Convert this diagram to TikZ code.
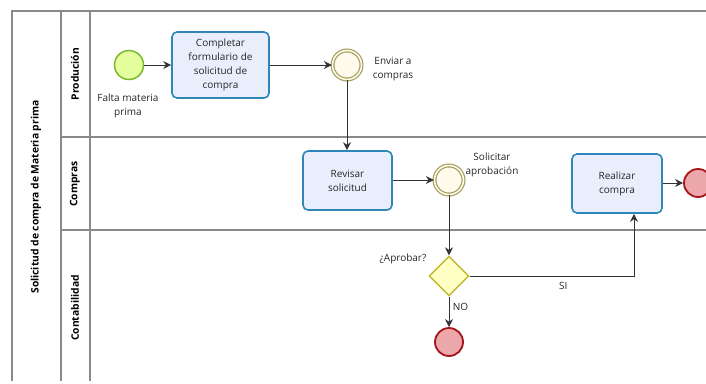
\documentclass[tikz,border=0pt]{standalone}
\usepackage{fontspec}
\setmainfont{Open Sans}
\usetikzlibrary{arrows.meta,shapes.geometric}

\definecolor{poolline}{HTML}{8A8A8A}
\definecolor{taskfill}{HTML}{E9EEFC}
\definecolor{taskdraw}{HTML}{2F86B8}
\definecolor{startfill}{HTML}{E6FF9E}
\definecolor{startdraw}{HTML}{79BA2D}
\definecolor{midfill}{HTML}{FFFAEC}
\definecolor{middraw}{HTML}{A39F5E}
\definecolor{endfill}{HTML}{EBA7A9}
\definecolor{enddraw}{HTML}{A5141A}
\definecolor{gwfill}{HTML}{FFFFC4}
\definecolor{gwdraw}{HTML}{BFB830}

\tikzset{
  txt/.style={font=\fontsize{10}{14}\selectfont, align=center, text=black!85},
  pool/.style={draw=poolline, line width=1.1pt},
  lanetitle/.style={rotate=90, font=\fontsize{10.3}{12}\selectfont\bfseries, text=black},
  task/.style={txt, draw=taskdraw, fill=taskfill, line width=1.6pt, rounded corners=5pt,
               inner sep=0pt},
  startev/.style={circle, draw=startdraw, fill=startfill, line width=1.5pt,
                  minimum size=29pt, inner sep=0pt},
  midev/.style={circle, draw=middraw, fill=midfill, line width=1.2pt,
                minimum size=29pt, inner sep=0pt, double=midfill, double distance=1.6pt},
  endev/.style={circle, draw=enddraw, fill=endfill, line width=1.8pt,
                minimum size=28pt, inner sep=0pt},
  gateway/.style={diamond, draw=gwdraw, fill=gwfill, line width=1.4pt,
                  minimum width=40pt, minimum height=40pt, inner sep=0pt, aspect=1},
  flow/.style={draw=black!80, line width=0.9pt, -{Stealth[length=8pt,width=8pt]}},
}

\begin{document}
\begin{tikzpicture}[x=1pt,y=-1pt]
\useasboundingbox (0,0) rectangle (706,383);

% pool and lanes
\draw[pool] (706,11) -- (12,11) -- (12,381);
\draw[pool] (61,11) -- (61,381);
\draw[pool] (90,11) -- (90,381);
\draw[pool] (61,137) -- (706,137);
\draw[pool] (61,230) -- (706,230);

\node[lanetitle] (pooltitle) at (36,197) {Solicitud de compra de Materia prima};
\node[lanetitle] (lane1) at (75,74) {Produción};
\node[lanetitle] (lane2) at (75,184) {Compras};
\node[lanetitle] (lane3) at (75,308) {Contabilidad};

% flow objects
\node[startev] (start) at (129,65) {};
\node[task, minimum width=97pt, minimum height=66pt] (t1) at (220.5,65)
  {Completar\\formulario de\\solicitud de\\compra};
\node[midev] (e1) at (347,65) {};
\node[task, minimum width=89pt, minimum height=59pt] (t2) at (347.5,180.5)
  {Revisar\\solicitud};
\node[midev] (e2) at (449,180) {};
\node[gateway] (gw) at (449,276) {};
\node[endev] (end1) at (449,342) {};
\node[task, minimum width=90pt, minimum height=59pt] (t3) at (617,183.5)
  {Realizar\\compra};
\node[endev] (end2) at (698,183) {};

% labels
\node[txt] (lstart) at (128,106) {Falta materia\\prima};
\node[txt] (le1) at (393,69) {Enviar a\\compras};
\node[txt] (le2) at (492,165) {Solicitar\\aprobación};
\node[txt] (lgw) at (403,259) {¿Aprobar?};

% sequence flows
\draw[flow] (start) -- (t1);
\draw[flow] (t1) -- (e1);
\draw[flow] (e1) -- (t2.north -| e1);
\draw[flow] (t2.east |- e2) -- (e2);
\draw[flow] (e2) -- (gw);
\draw[flow] (gw) -- node[txt, right, pos=0.33] (lno) {NO} (end1);
\draw[flow] (gw.east) -- node[txt, below=2pt, pos=0.57] (lsi) {SI} (634,276) -- ([xshift=17pt]t3.south);
\draw[flow] (t3.east |- end2) -- (end2);
\end{tikzpicture}
\end{document}
